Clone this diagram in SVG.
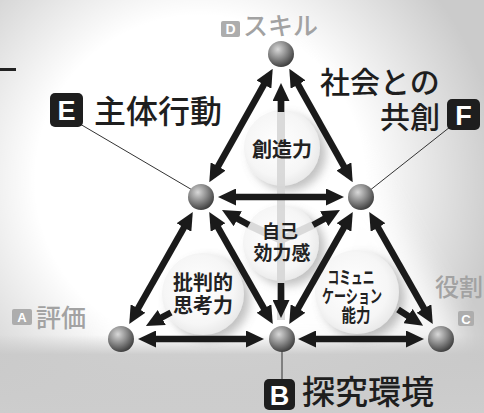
<svg xmlns="http://www.w3.org/2000/svg" width="484" height="413" viewBox="0 0 484 413">
<style>
.arr{stroke:#1a1a1a;stroke-width:6.5;fill:none}
.dbl{marker-start:url(#ah);marker-end:url(#ah)}
.one{marker-end:url(#ah)}
.gl{stroke:#d6d6d6;stroke-width:8;fill:none;opacity:0.9}
.thin{stroke:#333;stroke-width:1;fill:none}
.cir{fill:url(#cg);filter:url(#sh)}
.cl{font-family:"Noto Sans CJK JP","Noto Sans",sans-serif;font-weight:700;fill:#222;text-anchor:middle}
.big{font-family:"Noto Sans CJK JP","Noto Sans",sans-serif;font-weight:500;fill:#1e1e1e}
.gry{font-family:"Noto Sans CJK JP","Noto Sans",sans-serif;font-weight:500;fill:#a2a2a2}
.bx{fill:#1e1e1e}
.bxl{font-family:"Liberation Sans",Arial,sans-serif;font-weight:700;fill:#fff;text-anchor:middle}
.gbx{fill:#adadad}
.sp{fill:url(#sg)}
</style>
<defs>
<marker id="ah" viewBox="0 0 18 17" markerWidth="18" markerHeight="17" markerUnits="userSpaceOnUse" refX="2" refY="8.5" orient="auto-start-reverse">
<path d="M0,0 L18,8.5 L0,17 z" fill="#1a1a1a"/>
</marker>
<radialGradient id="sg" cx="0.38" cy="0.32" r="0.7">
<stop offset="0" stop-color="#d8d8d8"/>
<stop offset="0.5" stop-color="#8c8c8c"/>
<stop offset="1" stop-color="#3e3e3e"/>
</radialGradient>
<radialGradient id="cg" cx="0.45" cy="0.45" r="0.6">
<stop offset="0" stop-color="#ffffff"/>
<stop offset="0.7" stop-color="#f6f6f6"/>
<stop offset="1" stop-color="#e6e6e6"/>
</radialGradient>
<radialGradient id="bgw" cx="200" cy="180" r="300" gradientUnits="userSpaceOnUse">
<stop offset="0" stop-color="#ffffff"/>
<stop offset="0.55" stop-color="#ffffff"/>
<stop offset="1" stop-color="#ffffff" stop-opacity="0"/>
</radialGradient>
<linearGradient id="bot" x1="0" y1="0" x2="0" y2="1">
<stop offset="0" stop-color="#c9c9c9" stop-opacity="0"/>
<stop offset="0.25" stop-color="#c9c9c9" stop-opacity="0.9"/>
<stop offset="1" stop-color="#cdcdcd"/>
</linearGradient>
<filter id="sh" x="-30%" y="-30%" width="170%" height="170%">
<feDropShadow dx="6" dy="5" stdDeviation="5" flood-color="#777" flood-opacity="0.45"/>
</filter>
<filter id="blur" x="-20%" y="-20%" width="140%" height="140%">
<feGaussianBlur stdDeviation="14"/>
</filter>
</defs>

<g id="background">
<rect width="484" height="413" fill="#cbcbcb"/>
<rect width="484" height="413" fill="url(#bgw)"/>
<path d="M281,30 L470,350 L100,350 Z" fill="#ffffff" filter="url(#blur)" opacity="0.8"/>
<rect x="0" y="335" width="484" height="78" fill="url(#bot)"/>
<rect x="0" y="68" width="16" height="3" fill="#222"/>
</g>

<g id="circles">
<circle class="cir" cx="282" cy="148" r="38"/>
<circle class="cir" cx="281" cy="243" r="38"/>
<circle class="cir" cx="203" cy="294" r="41"/>
<circle class="cir" cx="357" cy="292" r="42"/>
</g>

<g id="guides">
<line class="gl" x1="281" y1="100" x2="281" y2="320"/>
<line class="gl" x1="281" y1="240" x2="247" y2="224"/>
<line class="gl" x1="281" y1="240" x2="315" y2="224"/>
</g>

<g id="circle-labels">
<text class="cl" x="282" y="157" font-size="20">創造力</text>
<text class="cl" x="280" y="238" font-size="18">自己</text>
<text class="cl" x="282" y="260" font-size="19">効力感</text>
<text class="cl" x="203" y="290" font-size="20">批判的</text>
<text class="cl" x="203" y="313" font-size="20">思考力</text>
<text class="cl" x="351" y="284" font-size="18" textLength="47" lengthAdjust="spacingAndGlyphs">コミュニ</text>
<text class="cl" x="352" y="303" font-size="18" textLength="60" lengthAdjust="spacingAndGlyphs">ケーション</text>
<text class="cl" x="356" y="322" font-size="18" textLength="29" lengthAdjust="spacingAndGlyphs">能力</text>
</g>

<g id="connectors">
<line class="arr dbl" x1="264.9" y1="82.8" x2="217.1" y2="168.2"/>
<line class="arr dbl" x1="297.1" y1="82.8" x2="344.9" y2="168.2"/>
<line class="arr dbl" x1="184.9" y1="225.8" x2="137.1" y2="310.2"/>
<line class="arr dbl" x1="217.1" y1="225.8" x2="264.9" y2="310.2"/>
<line class="arr dbl" x1="344.9" y1="225.8" x2="297.1" y2="310.2"/>
<line class="arr dbl" x1="377.1" y1="225.8" x2="424.9" y2="310.2"/>
<line class="arr dbl" x1="234" y1="197" x2="328" y2="197"/>
<line class="arr dbl" x1="154" y1="339" x2="248" y2="339"/>
<line class="arr dbl" x1="314" y1="339" x2="408" y2="339"/>
<line class="arr one" x1="281" y1="112" x2="281" y2="99"/>
<line class="arr one" x1="281" y1="283" x2="281" y2="302"/>
<line class="arr one" x1="249" y1="225" x2="236" y2="217.8"/>
<line class="arr one" x1="313" y1="225" x2="326" y2="217.8"/>
<line class="arr one" x1="171" y1="312.5" x2="160" y2="318.4"/>
<line class="arr one" x1="398" y1="309.5" x2="409.7" y2="317.1"/>
<line class="thin" x1="80" y1="124" x2="194" y2="191"/>
<line class="thin" x1="450" y1="127" x2="369" y2="191"/>
<line class="thin" x1="282" y1="350" x2="282" y2="380"/>
</g>

<g id="node-D"><circle class="sp" cx="281" cy="54" r="13"/>
<rect class="gbx" x="221" y="21" width="19" height="16" rx="2"/><text class="bxl" x="230.5" y="34" font-size="14">D</text>
<text class="gry" x="243" y="35" font-size="25">スキル</text></g>
<g id="node-E"><circle class="sp" cx="201" cy="197" r="13"/>
<rect class="bx" x="50" y="93" width="33" height="34" rx="5"/><text class="bxl" x="66.5" y="120" font-size="27">E</text>
<text class="big" x="94" y="123" font-size="32">主体行動</text></g>
<g id="node-F"><circle class="sp" cx="361" cy="197" r="13"/>
<rect class="bx" x="447" y="99" width="33" height="31" rx="5"/><text class="bxl" x="463.5" y="125" font-size="27">F</text>
<text class="big" x="320" y="93" font-size="30">社会との</text>
<text class="big" x="380" y="128" font-size="30">共創</text></g>
<g id="node-A"><circle class="sp" cx="121" cy="339" r="13"/>
<rect class="gbx" x="12" y="309" width="20" height="16" rx="2"/><text class="bxl" x="22" y="322" font-size="13">A</text>
<text class="gry" x="36" y="327" font-size="25">評価</text></g>
<g id="node-B"><circle class="sp" cx="282" cy="339" r="13"/>
<rect class="bx" x="264" y="379" width="31" height="31" rx="5"/><text class="bxl" x="279.5" y="405" font-size="27">B</text>
<text class="big" x="302" y="404" font-size="33">探究環境</text></g>
<g id="node-C"><circle class="sp" cx="441" cy="339" r="13"/>
<rect class="gbx" x="458" y="311" width="16" height="15" rx="2"/><text class="bxl" x="466" y="323.5" font-size="13">C</text>
<text class="gry" x="435" y="296" font-size="24">役割</text></g>
</svg>
